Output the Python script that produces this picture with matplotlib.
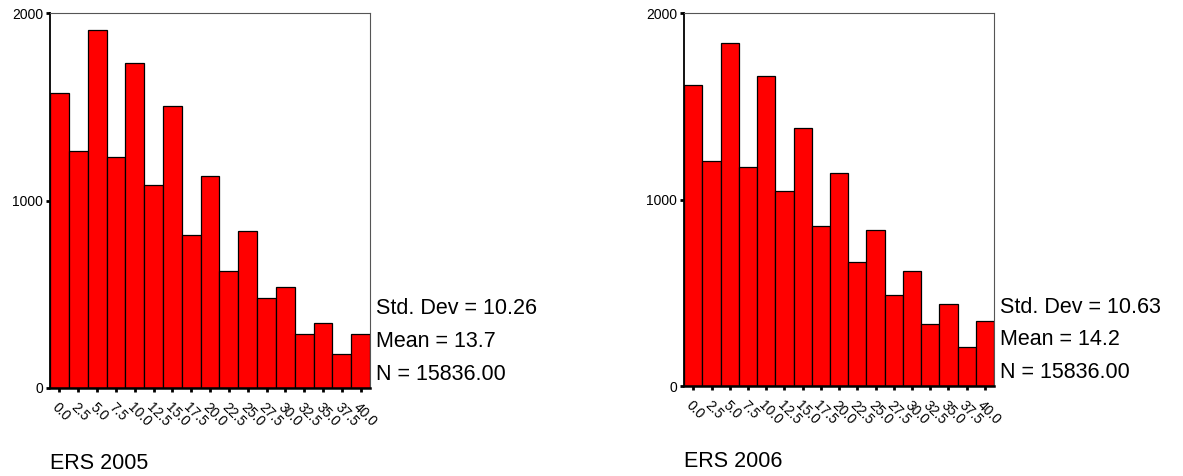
import matplotlib.pyplot as plt
import matplotlib.transforms as mtransforms

plt.rcParams['font.family'] = ['Liberation Sans', 'DejaVu Sans']

# bin centres shared by both histograms
bins = [0.0, 2.5, 5.0, 7.5, 10.0, 12.5, 15.0, 17.5, 20.0, 22.5,
        25.0, 27.5, 30.0, 32.5, 35.0, 37.5, 40.0]
bin_labels = ['%.1f' % b for b in bins]

counts_2005 = [1573, 1266, 1913, 1234, 1735, 1083, 1504, 818, 1131, 626,
               836, 480, 539, 290, 348, 181, 290]
counts_2006 = [1615, 1208, 1841, 1174, 1662, 1045, 1386, 860, 1145, 664,
               837, 490, 617, 335, 440, 209, 351]

stats_2005 = ['Std. Dev = 10.26', 'Mean = 13.7', 'N = 15836.00']
stats_2006 = ['Std. Dev = 10.63', 'Mean = 14.2', 'N = 15836.00']

fig = plt.figure(figsize=(11.83, 4.76), dpi=100)

panels = [
    ([0.0423, 0.1849, 0.2705, 0.787], counts_2005, stats_2005, 'ERS 2005'),
    ([0.5784, 0.189, 0.2618, 0.783], counts_2006, stats_2006, 'ERS 2006'),
]

# push rotated tick labels a little right of their ticks
offset = mtransforms.ScaledTranslation(11 / 72, -3 / 72, fig.dpi_scale_trans)

for rect, counts, stats, title in panels:
    ax = fig.add_axes(rect)
    ax.bar(bins, counts, width=2.5, color='#ff0000', edgecolor='black', linewidth=0.9)
    ax.set_xlim(-1.25, 41.25)
    ax.set_ylim(0, 2000)
    ax.set_yticks([0, 1000, 2000])
    ax.set_xticks(bins)
    ax.set_xticklabels(bin_labels, rotation=-45, ha='left', va='top',
                       rotation_mode='anchor', fontsize=10)
    for lbl in ax.get_xticklabels():
        lbl.set_transform(lbl.get_transform() + offset)
    ax.tick_params(axis='y', labelsize=10, length=3, width=2, pad=2)
    ax.tick_params(axis='x', length=3, width=2, pad=6)
    ax.spines['left'].set_color('black')
    ax.spines['left'].set_linewidth(1.3)
    ax.spines['bottom'].set_color('black')
    ax.spines['bottom'].set_linewidth(1.8)
    ax.spines['top'].set_color('#555555')
    ax.spines['right'].set_color('#555555')
    for i, s in enumerate(stats):
        ax.text(1.018, 0.197 - i * 0.088, s, transform=ax.transAxes,
                fontsize=15.5, va='baseline', ha='left')
    ax.text(0.0, -0.216, title, transform=ax.transAxes, fontsize=15.5,
            va='baseline', ha='left')

fig.savefig('out.png', dpi=100)
